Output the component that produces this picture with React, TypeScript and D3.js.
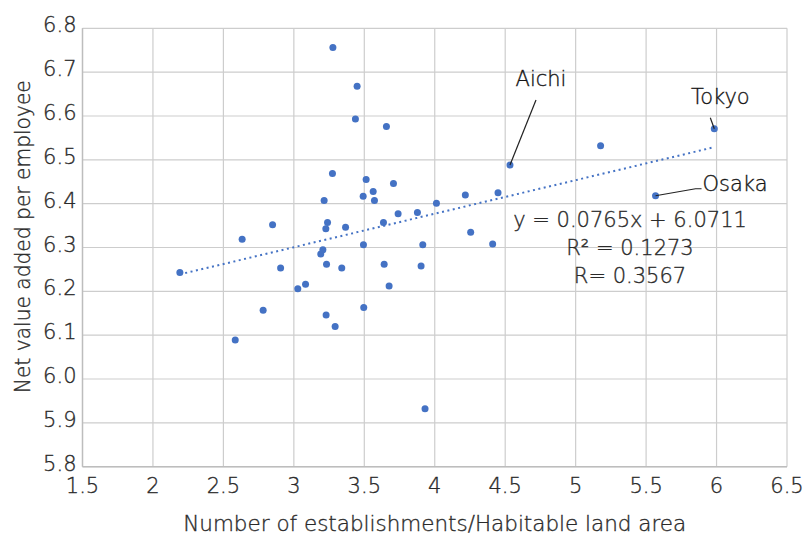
import React from "react";
import * as d3 from "d3";

const xValues = [3.277,3.449,3.437,3.657,3.274,3.513,3.563,3.492,3.572,3.215,3.707,3.740,2.849,3.239,3.227,3.367,3.636,2.633,3.494,3.206,3.191,2.191,2.906,3.232,3.340,3.641,3.676,3.083,3.028,2.782,3.496,3.229,3.293,2.584,3.877,4.012,4.217,4.449,4.534,5.177,5.984,5.567,4.255,4.411,3.915,3.903,3.931];
const yValues = [6.756,6.668,6.593,6.576,6.469,6.455,6.428,6.417,6.407,6.407,6.446,6.377,6.352,6.357,6.343,6.346,6.357,6.319,6.306,6.295,6.285,6.243,6.253,6.262,6.253,6.262,6.212,6.216,6.206,6.157,6.163,6.146,6.120,6.089,6.380,6.401,6.420,6.425,6.488,6.532,6.571,6.418,6.335,6.308,6.306,6.258,5.932];
const xTicks = [1.5,2,2.5,3,3.5,4,4.5,5,5.5,6,6.5];
const yTicks = [5.8,5.9,6.0,6.1,6.2,6.3,6.4,6.5,6.6,6.7,6.8];
const slope = 0.0765;
const intercept = 6.0711;
const eqLines = ["y = 0.0765x + 6.0711", "R² = 0.1273", "R= 0.3567"];
const labelNames = ["Aichi", "Tokyo", "Osaka"];
const labelPoints = [[4.534, 6.488], [5.984, 6.571], [5.567, 6.418]];

const W = 803, H = 537;
const L = 82.5, R = 787, T = 28.3, B = 466.7;
const FONT = "'DejaVu Sans', sans-serif";
const TXT = "#2a2a2a";
const FW = 200;
const FS = 21;
const TS = { stroke: "#2a2a2a", strokeWidth: 0.35 };

export default function App() {
  const x = d3.scaleLinear().domain([1.5, 6.5]).range([L, R]);
  const y = d3.scaleLinear().domain([5.8, 6.8]).range([B, T]);
  const xMin = d3.min(xValues)!;
  const xMax = d3.max(xValues)!;
  const line = d3.line<number>().x(v => x(v)).y(v => y(slope * v + intercept));
  const [ai, to, os] = labelPoints;
  return (
    <svg width={W} height={H} style={{ position: "absolute", left: 0, top: 0, background: "#fff" }} fontFamily={FONT} fontWeight={FW}>
      {xTicks.map(t => (
        <line key={"gx" + t} x1={x(t)} x2={x(t)} y1={T} y2={B} stroke="#cdcdcd" strokeWidth={1.2} />
      ))}
      {yTicks.map(t => (
        <line key={"gy" + t} x1={L} x2={R} y1={y(t)} y2={y(t)} stroke="#cdcdcd" strokeWidth={1.2} />
      ))}
      <line x1={L} x2={L} y1={T} y2={B} stroke="#bdbdbd" strokeWidth={1.4} />
      <line x1={L} x2={R} y1={B} y2={B} stroke="#bdbdbd" strokeWidth={1.4} />
      <g fill={TXT} {...TS} fontSize={FS}>
        {yTicks.map(t => (
          <text key={"ty" + t} x={L - 6} y={y(t) - 3} textAnchor="end" dominantBaseline="central">{d3.format(".1f")(t)}</text>
        ))}
        {xTicks.map(t => (
          <text key={"tx" + t} x={x(t)} y={B + 19} textAnchor="middle" dominantBaseline="central">{String(t)}</text>
        ))}
        <text x={(L + R) / 2} y={524} textAnchor="middle" dominantBaseline="central" textLength={503} lengthAdjust="spacingAndGlyphs">Number of establishments/Habitable land area</text>
        <text transform={`translate(23,${236.7}) rotate(-90)`} textAnchor="middle" dominantBaseline="central" textLength={313} lengthAdjust="spacingAndGlyphs">Net value added per employee</text>
      </g>
      <path d={line([xMin, xMax]) || ""} fill="none" stroke="#4472C4" strokeWidth={2} strokeDasharray="2 3.5" />
      {xValues.map((v, i) => (
        <circle key={"p" + i} cx={x(v)} cy={y(yValues[i])} r={3.5} fill="#4472C4" />
      ))}
      {/* Aichi */}
      <line x1={x(ai[0])} y1={y(ai[1])} x2={x(ai[0]) + 26} y2={y(ai[1]) - 65} stroke="#222" strokeWidth={1.2} />
      {/* Tokyo */}
      <line x1={x(to[0])} y1={y(to[1])} x2={x(to[0]) - 4} y2={y(to[1]) - 11} stroke="#222" strokeWidth={1.2} />
      {/* Osaka */}
      <polyline points={`${x(os[0])},${y(os[1])} ${x(os[0]) + 40},${y(os[1]) - 7} ${x(os[0]) + 46},${y(os[1]) - 7}`} fill="none" stroke="#222" strokeWidth={1.2} />
      <g fill="#151515" stroke="#151515" strokeWidth={0.35} fontSize={FS}>
        <text x={x(ai[0]) + 31} y={y(ai[1]) - 86} textAnchor="middle" dominantBaseline="central">{labelNames[0]}</text>
        <text x={x(to[0]) + 6} y={y(to[1]) - 32} textAnchor="middle" dominantBaseline="central">{labelNames[1]}</text>
        <text x={x(os[0]) + 47} y={y(os[1]) - 12} textAnchor="start" dominantBaseline="central">{labelNames[2]}</text>
      </g>
      <g fill={TXT} {...TS} fontSize={FS}>
        {eqLines.map((s, i) => (
          <text key={"eq" + i} x={630} y={219.5 + i * 28} textAnchor="middle" dominantBaseline="central">{s}</text>
        ))}
      </g>
    </svg>
  );
}
